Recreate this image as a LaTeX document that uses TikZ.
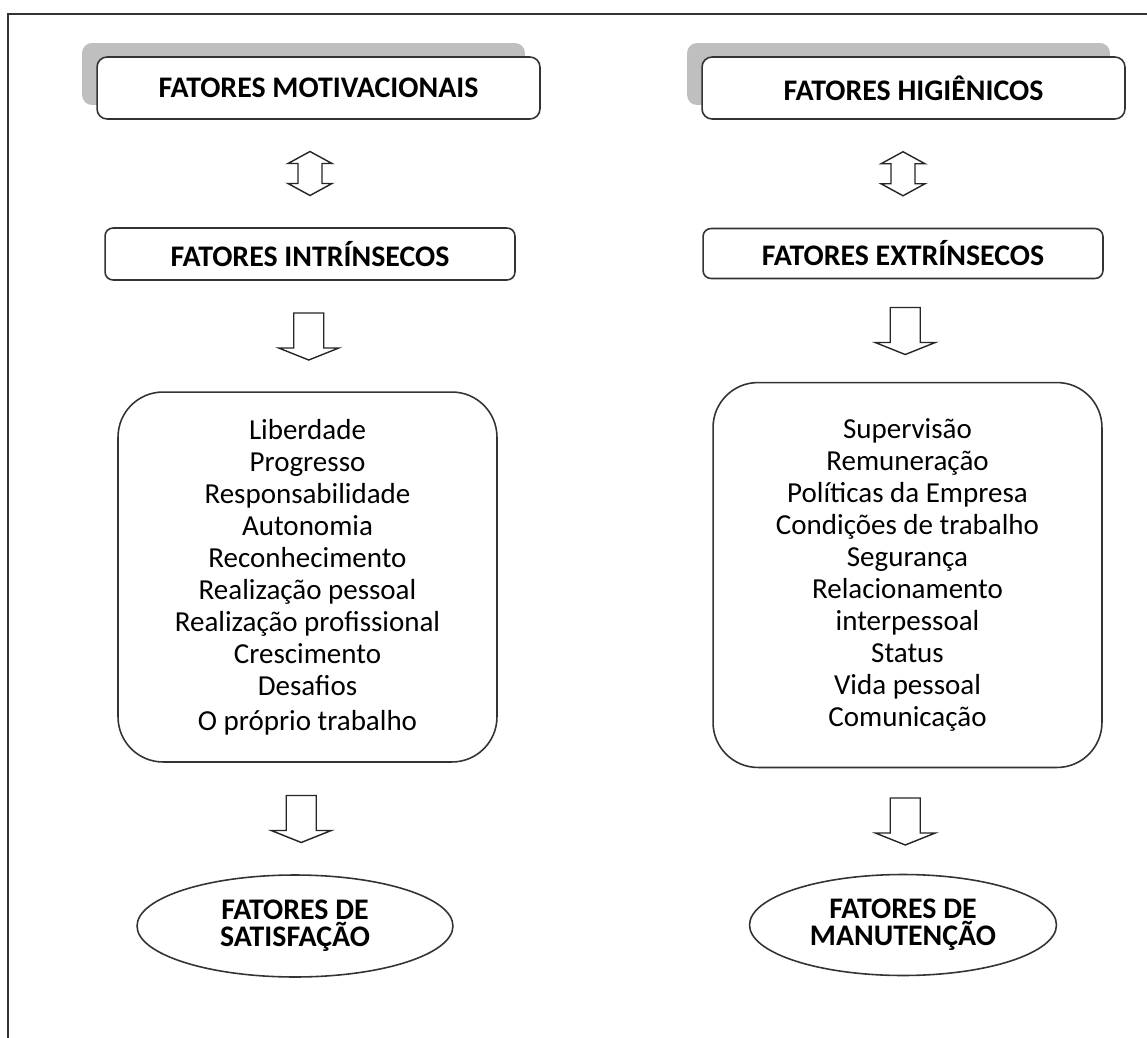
\documentclass[tikz,border=0pt]{standalone}
\usepackage{fontspec}
\setmainfont{Carlito}
\usetikzlibrary{calc,shapes.geometric,shadows}

\begin{document}
\begin{tikzpicture}[x=0.02cm, y=-0.02cm,
  titlebox/.style={draw=black!80, line width=0.9pt, rounded corners=0.2cm, fill=white,
                   font=\fontsize{17}{19}\selectfont\bfseries, inner sep=0pt},
  shadowed/.style={drop shadow={shadow xshift=-0.3cm, shadow yshift=0.28cm,
                   fill=black!25, opacity=1}},
  listbox/.style={draw=black!80, line width=0.9pt, rounded corners=0.9cm, align=center,
                  font=\fontsize{16.5}{18.2}\selectfont, inner sep=0pt},
  endnode/.style={draw=black!80, line width=0.9pt, ellipse, align=center, inner sep=0pt,
                  font=\fontsize{17}{15.4}\selectfont\bfseries},
  arr/.style={draw=black!85, line width=0.8pt, fill=white, line join=miter},
  pics/downarr/.style={code={
    \draw[arr] (-15,-23) -- (15,-23) -- (15,12) -- (30,12) -- (0,24) -- (-30,12) -- (-15,12) -- cycle;}},
  pics/updown/.style={code={
    \draw[arr] (0,-22) -- (22,-10) -- (12,-10) -- (12,10) -- (22,10) -- (0,22) -- (-22,10)
      -- (-12,10) -- (-12,-10) -- (-22,-10) -- cycle;}}]

\useasboundingbox (0,0) rectangle (1147,1038);
\draw[black!80, line width=1.1pt] (8,1038) -- (8,14) -- (1147,14);

% left column
\node[titlebox, shadowed, minimum width=8.86cm, minimum height=1.24cm] (motiv) at (318.5,88)
     {FATORES MOTIVACIONAIS};
\node[titlebox, minimum width=8.2cm, minimum height=1.04cm, rounded corners=0.16cm] (intr) at (310,254)
     {FATORES INTRÍNSECOS};
\node[listbox, minimum width=7.58cm, minimum height=7.4cm] (listam) at (307.5,577)
     {Liberdade\\ Progresso\\ Responsabilidade\\ Autonomia\\ Reconhecimento\\
      Realização pessoal\\ Realização profissional\\ Crescimento\\ Desafios\\[1.7pt]
      O próprio trabalho};
\node[endnode, minimum width=6.32cm, minimum height=2.04cm] (satis) at (295,926)
     {FATORES DE\\ SATISFAÇÃO};

% right column
\node[titlebox, shadowed, minimum width=8.46cm, minimum height=1.24cm] (hig) at (913.5,88)
     {FATORES HIGIÊNICOS};
\node[titlebox, minimum width=8.0cm, minimum height=1.0cm, rounded corners=0.16cm] (extr) at (903,253.5)
     {FATORES EXTRÍNSECOS};
\node[listbox, minimum width=7.78cm, minimum height=7.7cm] (listah) at (907.5,575)
     {Supervisão\\ Remuneração\\ Políticas da Empresa\\ Condições de trabalho\\ Segurança\\
      Relacionamento\\ interpessoal\\ Status\\ Vida pessoal\\ Comunicação};
\node[endnode, minimum width=6.14cm, minimum height=2.02cm] (manut) at (903,925)
     {FATORES DE\\ MANUTENÇÃO};

% block arrows
\pic at ($(intr.north)!.5!(motiv.south -| intr.north)$) {updown};
\pic at ($(intr.south)!.5!(listam.north)$) {downarr};
\pic at ($(listam.south)!.5!(satis.north)$) {downarr};
\pic at ($(extr.north)!.5!(hig.south -| extr.north)$) {updown};
\pic at ($(extr.south)!.5!(listah.north)$) {downarr};
\pic at ($(listah.south)!.5!(manut.north)$) {downarr};
\end{tikzpicture}
\end{document}
